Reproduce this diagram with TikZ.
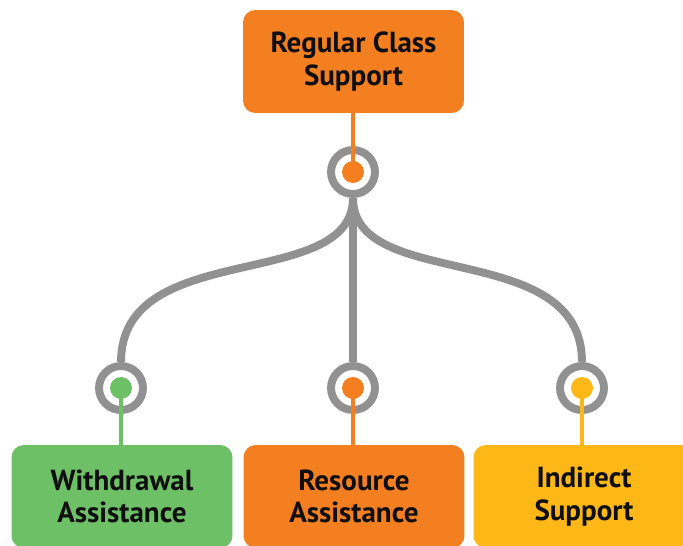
\documentclass[tikz,border=0pt]{standalone}
\usepackage{fontspec}
\setmainfont{PT Sans}
\usetikzlibrary{positioning}

\definecolor{boxorange}{RGB}{244, 127, 32}
\definecolor{boxgreen}{RGB}{110, 192, 103}
\definecolor{boxyellow}{RGB}{253, 183, 23}
\definecolor{ringgray}{RGB}{145, 145, 145}
\definecolor{labelblack}{RGB}{15, 15, 15}

\tikzset{
  supportbox/.style={rounded corners=7pt, minimum width=4.42cm, minimum height=2.06cm,
    align=center, inner sep=0pt, font=\fontsize{16.5}{18.5}\selectfont\bfseries, text=labelblack},
  ringnode/.style={circle, draw=ringgray, line width=4.5pt, minimum size=0.88cm, inner sep=0pt},
  dotnode/.style={circle, minimum size=0.44cm, inner sep=0pt},
  branch/.style={draw=ringgray, line width=4.5pt},
  stem/.style={line width=2.3pt}
}

\begin{document}
\begin{tikzpicture}[x=0.02cm, y=-0.02cm]
  \useasboundingbox (0, 0) rectangle (683, 545);
  \clip (0, 0) rectangle (683, 545);

  % ===== Top box =====
  \node[supportbox, fill=boxorange] (regular) at (353.5, 61.5) {Regular Class\\Support};

  % ===== Rings =====
  \node[ringnode] (ringtop) at (353, 172) {};
  \node[ringnode] (ringleft) at (121, 388) {};
  \node[ringnode] (ringmid) at (353, 388) {};
  \node[ringnode] (ringright) at (582, 388) {};

  % Gray branches
  \draw[branch] (ringtop.south) .. controls +(0, 95) and +(0, -125) .. (ringleft.north);
  \draw[branch] (ringtop.south) -- (ringmid.north);
  \draw[branch] (ringtop.south) .. controls +(0, 95) and +(0, -125) .. (ringright.north);

  % ===== Bottom boxes =====
  \node[supportbox, fill=boxgreen] (withdrawal) at (122, 496.5) {Withdrawal\\Assistance};
  \node[supportbox, fill=boxorange] (resource) at (354, 496.5) {Resource\\Assistance};
  \node[supportbox, fill=boxyellow] (indirect) at (584, 496.5) {Indirect\\Support};

  % Dots and stems
  \node[dotnode, fill=boxorange] (dottop) at (ringtop) {};
  \node[dotnode, fill=boxgreen] (dotleft) at (ringleft) {};
  \node[dotnode, fill=boxorange] (dotmid) at (ringmid) {};
  \node[dotnode, fill=boxyellow] (dotright) at (ringright) {};

  \draw[stem, boxorange] (regular.south -| dottop) -- (dottop.center);
  \draw[stem, boxgreen] (dotleft.center) -- (withdrawal.north -| dotleft);
  \draw[stem, boxorange] (dotmid.center) -- (resource.north -| dotmid);
  \draw[stem, boxyellow] (dotright.center) -- (indirect.north -| dotright);
\end{tikzpicture}
\end{document}
